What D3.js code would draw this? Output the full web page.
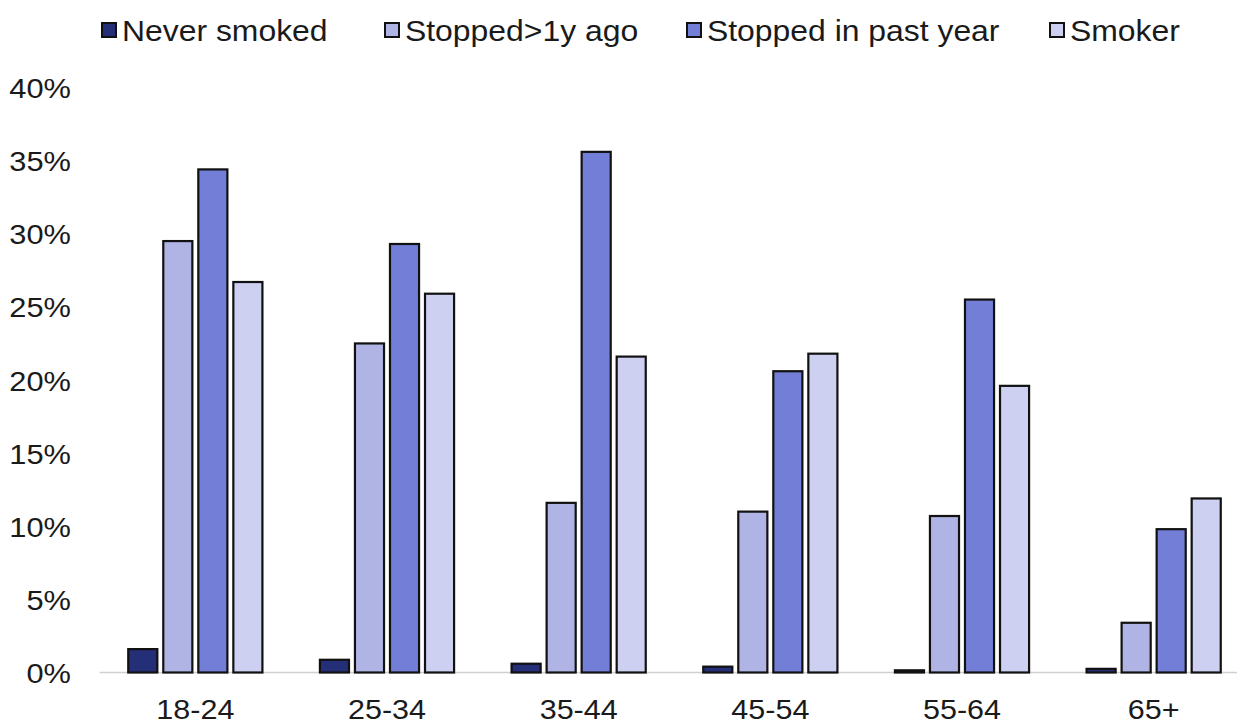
<!DOCTYPE html>
<html>
<head>
<meta charset="utf-8">
<script src="https://cdn.jsdelivr.net/npm/d3@7"></script>
<style>
  html, body { margin: 0; padding: 0; background: #fff; }
  svg { display: block; }
  text { font-family: "Liberation Sans", Arial, sans-serif; fill: #1a1a1a; }
</style>
</head>
<body>
<svg id="chart" width="1237" height="724"></svg>
<script>
const categories = ["18-24", "25-34", "35-44", "45-54", "55-64", "65+"];
const seriesNames = ["Never smoked", "Stopped>1y ago", "Stopped in past year", "Smoker"];
const neverSmoked      = [1.6, 0.87, 0.6, 0.4, 0.15, 0.25];
const stoppedOver1y    = [29.5, 22.5, 11.6, 11.0, 10.7, 3.4];
const stoppedPastYear  = [34.4, 29.3, 35.6, 20.6, 25.5, 9.8];
const smoker           = [26.7, 25.9, 21.6, 21.8, 19.6, 11.9];
const seriesColors = ["#252f78", "#b0b4e4", "#737fd6", "#cdd0f0"];
const yTicks = [0, 5, 10, 15, 20, 25, 30, 35, 40];

const seriesValues = [neverSmoked, stoppedOver1y, stoppedPastYear, smoker];
const data = categories.map((c, i) => ({
  cat: c,
  vals: seriesNames.map((s, j) => ({ key: s, idx: j, value: seriesValues[j][i] }))
}));

const svg = d3.select("#chart");

const x0 = d3.scaleBand().domain(categories).range([99.5, 1249.5])
  .paddingInner(0.3).paddingOuter(0.15);
const x1 = d3.scaleBand().domain(seriesNames).range([0, x0.bandwidth()])
  .paddingInner(0.17).paddingOuter(0);
const y = d3.scaleLinear().domain([0, 40]).range([672.5, 87.5]);

// baseline
svg.append("line")
  .attr("x1", 99.5).attr("x2", 1237)
  .attr("y1", y(0)).attr("y2", y(0))
  .attr("stroke", "#d0d0d0").attr("stroke-width", 1.5);

// y axis labels
const yAxis = d3.axisLeft(y).tickValues(yTicks).tickFormat(d => d + "%").tickSize(0).tickPadding(0);
const yg = svg.append("g").attr("transform", "translate(71,0)").call(yAxis);
yg.select(".domain").remove();
yg.selectAll("text")
  .attr("font-size", "28px")
  .attr("font-family", "Liberation Sans, Arial, sans-serif")
  .attr("fill", "#1a1a1a")
  .attr("dy", "0.36em")
  .attr("transform", "scale(1.1,1)");

// x axis labels
const xAxis = d3.axisBottom(x0).tickSize(0).tickPadding(0);
const xg = svg.append("g").call(xAxis);
xg.select(".domain").remove();
xg.selectAll("text")
  .attr("y", 719)
  .attr("dy", 0)
  .attr("font-size", "28px")
  .attr("font-family", "Liberation Sans, Arial, sans-serif")
  .attr("fill", "#1a1a1a")
  .attr("transform", "scale(1.09,1)");

// bars
const groups = svg.append("g").selectAll("g").data(data).join("g")
  .attr("transform", d => `translate(${x0(d.cat)},0)`);
groups.selectAll("rect").data(d => d.vals).join("rect")
  .attr("x", d => x1(d.key))
  .attr("width", x1.bandwidth())
  .attr("y", d => y(d.value))
  .attr("height", d => y(0) - y(d.value))
  .attr("fill", d => seriesColors[d.idx])
  .attr("stroke", "#111")
  .attr("stroke-width", 2.2);

// legend
const legendX = [101, 384, 686, 1049];
const lg = svg.append("g").selectAll("g").data(seriesNames).join("g")
  .attr("transform", (d, i) => `translate(${legendX[i]},0)`);
lg.append("rect")
  .attr("x", 1).attr("y", 23).attr("width", 14).attr("height", 14)
  .attr("fill", (d, i) => seriesColors[i])
  .attr("stroke", "#111").attr("stroke-width", 2);
lg.append("g").attr("transform", "translate(21,41) scale(1.1,1)")
  .append("text")
  .attr("x", 0).attr("y", 0)
  .attr("font-size", "29px")
  .text(d => d);
</script>
</body>
</html>
